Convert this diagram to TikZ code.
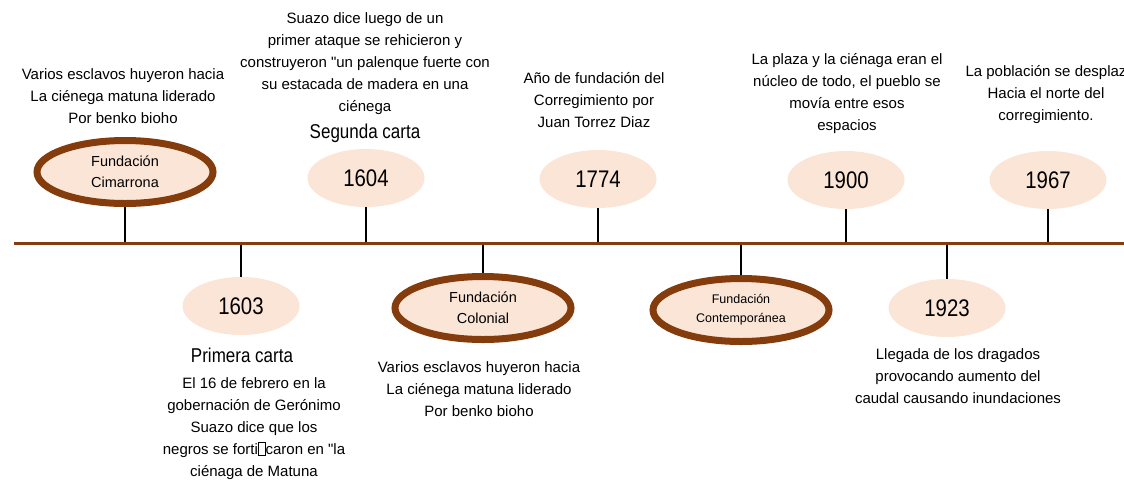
\documentclass[tikz,border=0pt]{standalone}
\usepackage{fontspec}
\setmainfont{Liberation Sans}[Ligatures=TeXOff]
\newfontfamily\narrowfont{Liberation Sans}[FakeStretch=0.85]
\usetikzlibrary{shapes.geometric}

\definecolor{peach}{HTML}{FBE5D6}
\definecolor{rust}{HTML}{843C0C}

\newcommand{\lostglyph}{{\fboxsep=0pt\fboxrule=0.5pt\fbox{\rule{0pt}{1.6ex}\hspace{0.45em}}}}

\tikzset{
  year/.style={ellipse, fill=peach, minimum width=117pt, minimum height=58pt,
    inner sep=0pt, font=\narrowfont\fontsize{24}{24}\selectfont},
  era/.style={ellipse, fill=peach, draw=rust, line width=7pt, minimum width=176pt,
    minimum height=63pt, inner sep=0pt, align=center, font=\fontsize{14.5}{21}\selectfont},
  note/.style={align=center, inner sep=0pt, font=\fontsize{15}{22}\selectfont},
  heading/.style={inner sep=0pt, font=\narrowfont\fontsize{20}{20}\selectfont},
  tick/.style={line width=1.4pt, black},
}

\begin{document}
\begin{tikzpicture}[x=1pt, y=-1pt]
  \useasboundingbox (0,0) rectangle (1124,480);

  % Timeline ends
  \coordinate (lineL) at (14,243);
  \coordinate (lineR) at (1124,243);

  % Ellipses above the line
  \node[era] (cimarrona) at (125,172) {Fundación\\Cimarrona};
  \node[year] (y1604) at (366,178) {1604};
  \node[year] (y1774) at (598,179) {1774};
  \node[year] (y1900) at (846,180) {1900};
  \node[year] (y1967) at (1048,180) {1967};

  % Ellipses below the line
  \node[year] (y1603) at (241,306) {1603};
  \node[era] (colonial) at (483,308) {Fundación\\Colonial};
  \node[era, font=\fontsize{12.5}{19}\selectfont] (contemporanea) at (741,310) {Fundación\\Contemporánea};
  \node[year] (y1923) at (947,308) {1923};

  % Ticks
  \foreach \n in {cimarrona,y1604,y1774,y1900,y1967}
    \draw[tick] (\n.south) -- (\n.south |- lineL);
  \foreach \n in {y1603,colonial,contemporanea,y1923}
    \draw[tick] (\n.north) -- (\n.north |- lineL);

  % Timeline
  \draw[rust, line width=3pt] (lineL) -- (lineR);

  % Texts above
  \node[note] (tcimarrona) at (123,96) {Varios esclavos huyeron hacia\\La ciénega matuna liderado\hspace{18pt}\\Por benko bioho};
  \node[note] (t1604) at (365,64) {Suazo dice luego de un\\primer ataque se rehicieron y\\construyeron "un palenque fuerte con\\su estacada de madera en una\\ciénega};
  \node[heading] (segunda) at (365,133) {Segunda carta};
  \node[note] (t1774) at (594,100) {Año de fundación del\\Corregimiento por\\Juan Torrez Diaz};
  \node[note] (t1900) at (847,94) {La plaza y la ciénaga eran el\\núcleo de todo, el pueblo se\\movía entre esos\\espacios};
  \node[note] (t1967) at (1046,95) {La población se desplaz\\Hacia el norte del\\corregimiento.};

  % Texts below
  \node[heading] (primera) at (242,355) {Primera carta};
  \node[note] (t1603) at (254,429) {El 16 de febrero en la\\gobernación de Gerónimo\\Suazo dice que los\\negros se forti\lostglyph caron en "la\\ciénaga de Matuna};
  \node[note] (tcolonial) at (479,389) {Varios esclavos huyeron hacia\\La ciénega matuna liderado\hspace{18pt}\\Por benko bioho};
  \node[note] (t1923) at (958,376) {Llegada de los dragados\\provocando aumento del\\caudal causando inundaciones};
\end{tikzpicture}
\end{document}
